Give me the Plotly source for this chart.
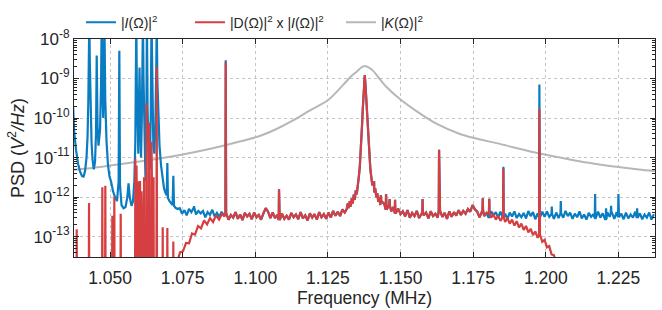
import numpy as np
import plotly.graph_objects as go

# ---------------- data (frequency in MHz, PSD given as log10 of V^2/Hz) ----------------
# |K(Ω)|^2 envelope
k_freq = [1.0376, 1.0450, 1.0500, 1.0600, 1.0680, 1.0750, 1.0830, 1.0900, 1.0970, 1.1020,
          1.1075, 1.1130, 1.1190, 1.1250, 1.1300, 1.1330, 1.1350, 1.1365, 1.1376, 1.1388,
          1.1405, 1.1425, 1.1450, 1.1500, 1.1560, 1.1625, 1.1700, 1.1750, 1.1845, 1.1950,
          1.2050, 1.2120, 1.2190, 1.2250, 1.2320, 1.2376]
k_logpsd = [-11.31, -11.25, -11.20, -11.10, -11.01, -10.92, -10.80, -10.68, -10.55, -10.44,
            -10.27, -10.06, -9.80, -9.55, -9.18, -8.94, -8.82, -8.72, -8.68, -8.71,
            -8.80, -8.98, -9.20, -9.53, -9.85, -10.15, -10.39, -10.50, -10.66, -10.85,
            -11.00, -11.10, -11.18, -11.24, -11.30, -11.34]

# |I(Ω)|^2 : low-frequency resonance forest
ires_freq = [1.03730, 1.03761, 1.03829, 1.03898, 1.03967, 1.04036, 1.04088, 1.04139, 1.04191, 1.04225,
             1.04253, 1.04274, 1.04287, 1.04305, 1.04329, 1.04363, 1.04398, 1.04442, 1.04484, 1.04518,
             1.04542, 1.04570, 1.04604, 1.04656, 1.04690, 1.04714, 1.04742, 1.04766, 1.04787, 1.04807,
             1.04835, 1.04880, 1.04931, 1.04983, 1.05034, 1.05103, 1.05172, 1.05241, 1.05296, 1.05320,
             1.05344, 1.05396, 1.05465, 1.05534, 1.05596, 1.05637, 1.05678, 1.05740, 1.05792, 1.05837,
             1.05871, 1.05892, 1.05905, 1.05923, 1.05950, 1.05974, 1.05998, 1.06016, 1.06036, 1.06067,
             1.06095, 1.06115, 1.06133, 1.06153, 1.06188, 1.06222, 1.06250, 1.06270, 1.06294, 1.06332,
             1.06370, 1.06401, 1.06429, 1.06456, 1.06491, 1.06525, 1.06560, 1.06591, 1.06608, 1.06628,
             1.06659, 1.06704, 1.06756, 1.06807, 1.06859, 1.06911, 1.06952, 1.06973, 1.06993, 1.07048,
             1.07100, 1.07155, 1.07179, 1.07203, 1.07255, 1.07324]
ires_logpsd = [-9.70, -10.30, -10.80, -11.15, -11.35, -11.47, -11.48, -11.35, -11.00, -10.50,
               -9.60, -8.60, -7.50, -8.60, -9.80, -10.60, -11.05, -11.30, -11.10, -10.40,
               -8.42, -10.20, -10.70, -10.30, -9.20, -7.50, -9.40, -10.00, -9.00, -7.50,
               -9.50, -10.60, -11.20, -11.48, -11.60, -11.85, -12.00, -12.10, -11.60, -8.30,
               -11.70, -12.20, -12.28, -12.25, -12.00, -11.65, -12.00, -12.22, -12.10, -11.60,
               -10.60, -9.00, -7.50, -9.20, -10.60, -10.90, -9.60, -8.72, -9.80, -11.00,
               -10.00, -8.50, -7.50, -9.00, -10.80, -11.60, -10.20, -7.50, -9.80, -11.00,
               -11.30, -10.00, -7.50, -9.60, -10.70, -10.90, -10.20, -8.80, -7.50, -9.00,
               -10.00, -10.70, -11.20, -11.55, -11.78, -11.90, -11.95, -11.14, -12.02, -12.10,
               -12.16, -12.20, -11.46, -12.22, -12.27, -12.30]

# shared noise floor, sampled every 0.8 kHz (two pieces either side of the main peak)
FLOOR_LO_START, FLOOR_LO_END = 1.0740, 1.1308
floor_lo_logpsd = [
    -12.28, -12.42, -12.33, -12.46, -12.30, -12.38, -12.27, -12.44, -12.35, -12.41,
    -12.35, -12.51, -12.38, -12.45, -12.32, -12.49, -12.40, -12.50, -12.37, -12.46,
    -12.41, -12.57, -12.45, -12.52, -12.38, -12.55, -12.44, -12.58, -12.40, -12.49,
    -12.42, -12.56, -12.39, -12.51, -12.45, -12.57, -12.40, -12.28, -12.37, -12.53,
    -12.39, -12.53, -12.45, -12.58, -12.42, -12.55, -12.47, -12.57, -12.40, -12.51,
    -12.44, -12.56, -12.38, -12.54, -12.46, -12.59, -12.41, -12.52, -12.43, -12.57,
    -12.38, -12.51, -12.43, -12.55, -12.39, -12.52, -12.35, -12.47, -12.37, -12.48,
    -12.31, -12.39]
FLOOR_HI_START, FLOOR_HI_END = 1.1444, 1.2372
floor_hi_logpsd = [
    -12.17, -12.32, -12.21, -12.36, -12.25, -12.40, -12.29, -12.43,
    -12.36, -12.49, -12.33, -12.52, -12.40, -12.48, -12.35, -12.53, -12.39, -12.46,
    -12.39, -12.54, -12.36, -12.48, -12.42, -12.52, -12.35, -12.50, -12.40, -12.55,
    -12.36, -12.50, -12.38, -12.47, -12.33, -12.45, -12.35, -12.42, -12.30, -12.37,
    -12.20, -12.31,
    -12.37, -12.51, -12.34, -12.48, -12.40, -12.53, -12.36, -12.46, -12.38, -12.52,
    -12.37, -12.52, -12.42, -12.55, -12.39, -12.49, -12.36, -12.53, -12.43, -12.51,
    -12.40, -12.54, -12.35, -12.48, -12.38, -12.56, -12.41, -12.51, -12.37, -12.50,
    -12.36, -12.50, -12.43, -12.55, -12.39, -12.53, -12.41, -12.52, -12.35, -12.48,
    -12.39, -12.55, -12.42, -12.51, -12.36, -12.54, -12.44, -12.57, -12.40, -12.50,
    -12.43, -12.53, -12.37, -12.52, -12.41, -12.56, -12.38, -12.50, -12.40, -12.55,
    -12.38, -12.51, -12.42, -12.56, -12.39, -12.54, -12.44, -12.52, -12.37, -12.53,
    -12.41, -12.56, -12.44, -12.52, -12.39, -12.57, -12.43]

# main mechanical resonance
peak_freq = [1.13149, 1.13183, 1.13218, 1.13252, 1.13287, 1.13321, 1.13356, 1.13390, 1.13424, 1.13459,
             1.13493, 1.13528, 1.13562, 1.13597, 1.13621, 1.13649, 1.13673, 1.13697, 1.13721, 1.13745,
             1.13769, 1.13793, 1.13817, 1.13845, 1.13872, 1.13900, 1.13931, 1.13962, 1.13996, 1.14030,
             1.14065, 1.14096, 1.14130, 1.14165, 1.14200, 1.14234, 1.14268, 1.14303, 1.14337]
peak_logpsd = [-12.30, -12.16, -12.28, -12.10, -12.24, -12.03, -12.16, -11.94, -12.07, -11.83,
               -11.93, -11.62, -11.50, -11.25, -10.98, -10.62, -10.22, -9.82, -9.46, -9.15,
               -8.91, -9.15, -9.47, -9.84, -10.25, -10.66, -11.00, -11.30, -11.50, -11.70,
               -11.60, -11.88, -11.78, -12.00, -11.90, -12.12, -12.00, -12.20, -12.10]

# narrow spurs of |I(Ω)|^2
i_spike_freq = [1.07892, 1.08983, 1.10818, 1.14080, 1.14325, 1.14502, 1.14623, 1.14812, 1.15759, 1.16327,
                1.17831, 1.18055, 1.18541, 1.19780, 1.20207, 1.20517, 1.21698, 1.22076, 1.22248, 1.22500,
                1.23144]
i_spike_top = [-12.23, -8.54, -11.80, -11.72, -11.95, -11.92, -12.05, -12.07, -12.05, -10.80,
               -12.03, -12.04, -11.23, -9.15, -12.24, -12.10, -11.92, -12.28, -12.22, -11.92,
               -12.28]

# |D(Ω)|^2 x |I(Ω)|^2
d_left_spike_freq = [1.03854, 1.04277, 1.04735, 1.04838, 1.05079, 1.05148, 1.05368, 1.05871, 1.05912, 1.05974,
                     1.06033, 1.06084, 1.06171, 1.06257, 1.06343, 1.06429, 1.06498, 1.06608, 1.06814, 1.06973,
                     1.07179]
d_left_spike_top = [-12.81, -12.15, -11.75, -11.71, -12.47, -11.99, -12.42, -11.03, -11.20, -11.60,
                    -11.59, -11.85, -11.50, -9.63, -10.12, -10.60, -11.50, -8.70, -12.76, -12.78,
                    -13.12]
D_OFF_SCALE = -15.0  # below the visible range
d_ramp_freq = [1.07324, 1.07410, 1.07513, 1.07617, 1.07720, 1.07823, 1.07926, 1.08030, 1.08133, 1.08236,
               1.08340, 1.08443, 1.08546, 1.08649, 1.08753, 1.08856, 1.08942]
d_ramp_logpsd = [-13.60, -13.40, -13.37, -13.16, -13.17, -12.92, -12.95, -12.73, -12.79, -12.59,
                 -12.69, -12.53, -12.63, -12.46, -12.57, -12.42, -12.49]
D_JOIN, D_SPLIT = 1.0895, 1.1800
d_drop_freq = [1.1804, 1.1812, 1.1820, 1.1828, 1.1836, 1.1844, 1.1852, 1.1860, 1.1868, 1.1876,
               1.1884, 1.1892, 1.1900, 1.1908, 1.1916, 1.1924, 1.1932, 1.1940, 1.1948, 1.1956,
               1.1964, 1.1972, 1.1980, 1.1988, 1.1996, 1.2004, 1.2012, 1.2020, 1.2028, 1.2036,
               1.2044]
d_drop_logpsd = [-12.42, -12.52, -12.44, -12.57, -12.47, -12.60, -12.50, -12.63, -12.53, -12.67,
                 -12.57, -12.72, -12.61, -12.77, -12.67, -12.83, -12.73, -12.89, -12.80, -12.96,
                 -12.87, -13.03, -12.95, -13.13, -13.08, -13.27, -13.24, -13.45, -13.47, -13.68,
                 -13.80]
d_spike_freq = [1.08983, 1.10818, 1.14080, 1.14325, 1.14502, 1.14623, 1.14812, 1.15759, 1.16327, 1.17831,
                1.18055, 1.18541, 1.19780]
d_spike_top = [-8.59, -11.80, -11.72, -11.95, -11.92, -12.05, -12.07, -12.05, -10.80, -12.03,
               -12.04, -11.27, -9.77]

x_tickvals = [1.050, 1.075, 1.100, 1.125, 1.150, 1.175, 1.200, 1.225]
y_exponents = [-13, -12, -11, -10, -9, -8]

# ---------------- assembling the series ----------------
def series(*parts):
    f = np.concatenate([np.asarray(p[0], float) for p in parts])
    v = np.concatenate([np.asarray(p[1], float) for p in parts])
    o = np.argsort(f, kind="stable")
    return f[o], v[o]

def with_spikes(f, v, sf, st, base=None, eps=0.00011):
    ff, vv = [f], [v]
    for s, t in zip(sf, st):
        b = base if base is not None else v[int(np.argmin(np.abs(f - s)))]
        ff.append(np.array([s - eps, s, s + eps]))
        vv.append(np.array([b, t, b]))
    return series(*zip(ff, vv))

floor_lo_f = np.linspace(FLOOR_LO_START, FLOOR_LO_END, len(floor_lo_logpsd))
floor_hi_f = np.linspace(FLOOR_HI_START, FLOOR_HI_END, len(floor_hi_logpsd))
floor_lo_v = np.array(floor_lo_logpsd)
floor_hi_v = np.array(floor_hi_logpsd)

bf, bv = series((ires_freq, ires_logpsd), (floor_lo_f, floor_lo_v), (peak_freq, peak_logpsd),
                (floor_hi_f, floor_hi_v))
bf, bv = with_spikes(bf, bv, i_spike_freq, i_spike_top)

lo = floor_lo_f >= D_JOIN
hi = floor_hi_f <= D_SPLIT
rf, rv = series((d_ramp_freq, d_ramp_logpsd), (floor_lo_f[lo], floor_lo_v[lo]), (peak_freq, peak_logpsd),
                (floor_hi_f[hi], floor_hi_v[hi]), (d_drop_freq, d_drop_logpsd))
rf, rv = with_spikes(rf, rv, d_spike_freq, d_spike_top)
lf, lv = with_spikes(np.array([1.0370, 1.0732]), np.array([D_OFF_SCALE, D_OFF_SCALE]),
                     d_left_spike_freq, d_left_spike_top, base=D_OFF_SCALE)
rf, rv = series((lf, lv), (rf, rv))

BLUE, RED, GREY = "#0a7cc1", "#d53f41", "#b7b7b7"
INK = "#262626"

fig = go.Figure()
fig.add_trace(go.Scatter(x=k_freq, y=np.power(10.0, k_logpsd), mode="lines",
                         line=dict(color=GREY, width=2, shape="spline", smoothing=0.8),
                         name="|<i>K</i>(Ω)|<sup>2</sup>", legendrank=3))
fig.add_trace(go.Scatter(x=bf, y=np.power(10.0, bv), mode="lines",
                         line=dict(color=BLUE, width=2.2),
                         name="|<i>I</i>(Ω)|<sup>2</sup>", legendrank=1, legendwidth=64))
fig.add_trace(go.Scatter(x=rf, y=np.power(10.0, rv), mode="lines",
                         line=dict(color=RED, width=2.2),
                         name="|D(Ω)|<sup>2</sup> x |<i>I</i>(Ω)|<sup>2</sup>", legendrank=2,
                         legendwidth=106))

fig.update_layout(
    width=662, height=310,
    margin=dict(l=74, r=7, t=31, b=53),
    paper_bgcolor="white", plot_bgcolor="white",
    font=dict(family="Liberation Sans, Arial, sans-serif", color=INK, size=16),
    legend=dict(orientation="h", x=0.012, xanchor="left", y=1.075, yanchor="middle",
                font=dict(size=14), bgcolor="rgba(0,0,0,0)", borderwidth=0),
)
fig.update_xaxes(
    range=[1.0376, 1.2376], tickmode="array", tickvals=x_tickvals,
    ticktext=[f"{v:.3f}" for v in x_tickvals],
    ticks="inside", ticklen=5, tickwidth=1, tickcolor=INK,
    showline=True, linewidth=1.2, linecolor=INK, mirror="ticks",
    showgrid=True, gridcolor="#c4c4c4", griddash="dot", gridwidth=1, zeroline=False,
    tickfont=dict(size=17.5), ticklabelstandoff=5,
    title=dict(text="Frequency (MHz)", font=dict(size=17.5), standoff=4),
)
fig.update_yaxes(
    type="log", range=[-13.515, -8.0], tickmode="array",
    tickvals=[10.0 ** e for e in y_exponents],
    ticktext=[f"10<sup>{e}</sup>" for e in y_exponents],
    ticks="inside", ticklen=5, tickwidth=1, tickcolor=INK,
    minor=dict(ticks="inside", ticklen=3, tickwidth=1, tickcolor=INK, showgrid=False,
               tickmode="array",
               tickvals=[m * 10.0 ** e for e in range(-14, -8) for m in range(2, 10)]),
    showline=True, linewidth=1.2, linecolor=INK, mirror="ticks",
    showgrid=True, gridcolor="#c4c4c4", griddash="dot", gridwidth=1, zeroline=False,
    tickfont=dict(size=17),
    title=dict(text="PSD (<i>V</i><sup>2</sup><i>/Hz</i>)", font=dict(size=18), standoff=4),
)

fig.write_html("out.html")
